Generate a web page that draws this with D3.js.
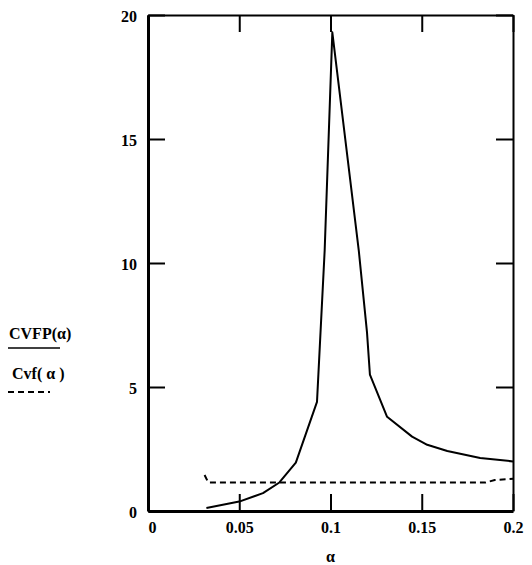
<!DOCTYPE html>
<html>
<head>
<meta charset="utf-8">
<script src="https://cdn.jsdelivr.net/npm/d3@7"></script>
<style>
  body { margin: 0; background: #fff; }
  svg { display: block; }
</style>
</head>
<body>
<svg id="main"></svg>
<script>
const width = 532;
const height = 565;

// data
const alphaCVFP = [0.032, 0.05, 0.063, 0.072, 0.081, 0.0926, 0.0968, 0.101, 0.1155, 0.12, 0.1216, 0.131, 0.1447, 0.153, 0.164, 0.182, 0.2];
const valCVFP   = [0.12, 0.38, 0.72, 1.15, 1.95, 4.4, 10.5, 19.3, 10.5, 7.2, 5.5, 3.8, 3.0, 2.67, 2.42, 2.14, 2.0];
const alphaCvf  = [0.031, 0.033, 0.185, 0.19, 0.2];
const valCvf    = [1.45, 1.15, 1.15, 1.25, 1.3];

const xTicks = [0, 0.05, 0.1, 0.15, 0.2];
const xTickLabels = ['0', '0.05', '0.1', '0.15', '0.2'];
const yTicks = [0, 5, 10, 15, 20];

const margin = { left: 148, right: 19, top: 15, bottom: 54 };
const font = '"Liberation Serif", "DejaVu Serif", serif';

const svg = d3.select('svg#main')
    .attr('width', width)
    .attr('height', height);

const x = d3.scaleLinear().domain([0, 0.2]).range([margin.left, width - margin.right]);
const y = d3.scaleLinear().domain([0, 20]).range([height - margin.bottom, margin.top]);

// frame + ticks --------------------------------
const tick = 17;

const axisB = svg.append('g')
    .attr('transform', `translate(0,${y(0)})`)
    .call(d3.axisBottom(x).tickValues(xTicks).tickSizeInner(-tick).tickSizeOuter(0).tickPadding(11)
        .tickFormat((d, i) => xTickLabels[i]));
const axisL = svg.append('g')
    .attr('transform', `translate(${x(0)},0)`)
    .call(d3.axisLeft(y).tickValues(yTicks).tickSizeInner(-tick).tickSizeOuter(0).tickPadding(11));
const axisT = svg.append('g')
    .attr('transform', `translate(0,${y(20)})`)
    .call(d3.axisTop(x).tickValues(xTicks).tickSizeInner(-tick).tickSizeOuter(0).tickFormat(''));
const axisR = svg.append('g')
    .attr('transform', `translate(${x(0.2)},0)`)
    .call(d3.axisRight(y).tickValues(yTicks).tickSizeInner(-tick).tickSizeOuter(0).tickFormat(''));

[axisB, axisL].forEach(g => {
    g.select('.domain').attr('stroke', '#000').attr('stroke-width', 3);
    g.selectAll('.tick line').attr('stroke', '#000').attr('stroke-width', 2);
});
[axisT, axisR].forEach(g => {
    g.select('.domain').attr('stroke', '#000').attr('stroke-width', 2);
    g.selectAll('.tick line').attr('stroke', '#000').attr('stroke-width', 2);
});
[axisB, axisL].forEach(g => g.selectAll('.tick text')
    .attr('fill', '#000')
    .style('font-family', font)
    .style('font-size', '16px')
    .style('font-weight', 'bold'));
axisL.selectAll('.tick text').attr('dy', '0.4em');
axisB.selectAll('.tick text').filter(d => d === 0).attr('dx', 4);

// lines --------------------------------
const line = d3.line().x(d => x(d[0])).y(d => y(d[1]));

svg.append('path')
    .datum(d3.zip(alphaCVFP, valCVFP))
    .attr('d', line)
    .attr('fill', 'none')
    .attr('stroke', '#000')
    .attr('stroke-width', 2)
    .attr('stroke-linejoin', 'round');

svg.append('path')
    .datum(d3.zip(alphaCvf, valCvf))
    .attr('d', line)
    .attr('fill', 'none')
    .attr('stroke', '#000')
    .attr('stroke-width', 2)
    .attr('stroke-dasharray', '6,4');

// labels --------------------------------
const labelStyle = sel => sel
    .style('font-family', font)
    .style('font-size', '16px')
    .style('font-weight', 'bold')
    .attr('fill', '#000');

svg.append('text')
    .text('α')
    .attr('x', x(0.1))
    .attr('y', 562)
    .attr('text-anchor', 'middle')
    .call(labelStyle);

svg.append('text').text('CVFP(α)').attr('x', 9).attr('y', 339).call(labelStyle);
svg.append('line')
    .attr('x1', 8).attr('x2', 60).attr('y1', 348).attr('y2', 348)
    .attr('stroke', '#000').attr('stroke-width', 1.5);
svg.append('text').text('Cvf( α )').attr('x', 12).attr('y', 379).call(labelStyle);
svg.append('line')
    .attr('x1', 8).attr('x2', 50).attr('y1', 392).attr('y2', 392)
    .attr('stroke', '#000').attr('stroke-width', 2)
    .attr('stroke-dasharray', '6,4');
</script>
</body>
</html>
